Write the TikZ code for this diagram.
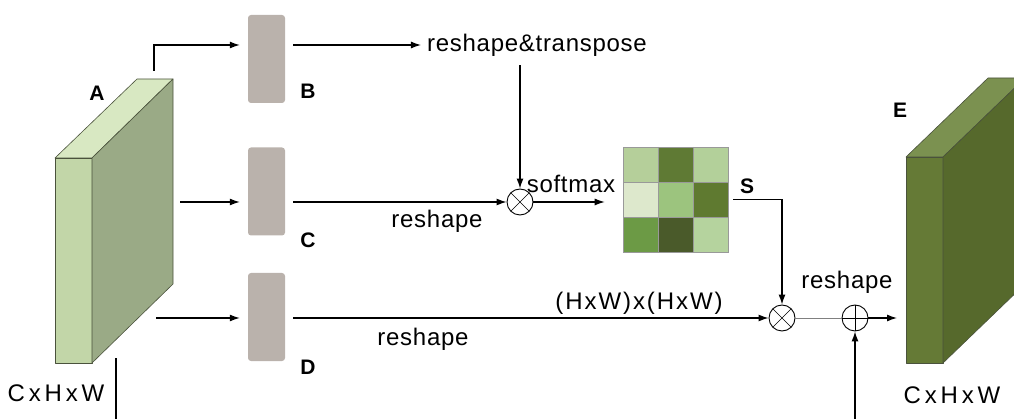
\documentclass[tikz,border=0pt]{standalone}
\usepackage{fontspec}
\setmainfont[LetterSpace=3]{Liberation Sans}
\newfontfamily\widefont[LetterSpace=16]{Liberation Sans}
\newfontfamily\midfont[LetterSpace=8]{Liberation Sans}
\newfontfamily\lblfont{Liberation Sans}
\usetikzlibrary{arrows.meta,calc}
\definecolor{afront}{HTML}{C2D6A8}
\definecolor{atop}{HTML}{D8E8C2}
\definecolor{aside}{HTML}{9AAA86}
\definecolor{efront}{HTML}{657A36}
\definecolor{etop}{HTML}{7B9150}
\definecolor{eside}{HTML}{56692C}
\definecolor{boxgray}{HTML}{BAB2AC}
\definecolor{edgec}{HTML}{4A523C}
\definecolor{m11}{HTML}{B5CF9A}
\definecolor{m12}{HTML}{5F7A34}
\definecolor{m13}{HTML}{B3D09A}
\definecolor{m21}{HTML}{DDE8CC}
\definecolor{m22}{HTML}{9CC47E}
\definecolor{m23}{HTML}{5F7A30}
\definecolor{m31}{HTML}{6C9A45}
\definecolor{m32}{HTML}{4A5A2A}
\definecolor{m33}{HTML}{B5D39E}
\tikzset{
  arr/.style={line width=1.2pt, -{Latex[length=10pt,width=7pt]}},
  plain/.style={line width=1.2pt},
  featbox/.style={rectangle, rounded corners=3pt, fill=boxgray, minimum width=37pt, minimum height=88pt, inner sep=0},
  txt/.style={font=\fontsize{24}{28}\selectfont, inner sep=1pt},
  lbl/.style={font=\lblfont\fontsize{21}{25}\selectfont\bfseries, inner sep=0},
  otimesnode/.style={circle, draw, line width=0.9pt, minimum size=26pt, inner sep=0,
    path picture={\draw[line width=0.6pt] (path picture bounding box.north west) -- (path picture bounding box.south east) (path picture bounding box.north east) -- (path picture bounding box.south west);}},
  oplusnode/.style={circle, draw, line width=0.9pt, minimum size=26pt, inner sep=0,
    path picture={\draw[line width=0.6pt] (path picture bounding box.north) -- (path picture bounding box.south) (path picture bounding box.west) -- (path picture bounding box.east);}},
  face/.style={draw=edgec, line width=0.6pt, line join=round},
  gridline/.style={gray!80, line width=0.6pt}
}
\begin{document}
\begin{tikzpicture}[x=1pt,y=-1pt]
\useasboundingbox (0,0) rectangle (1014,419);
\clip (0,0) rectangle (1014,419);
% block A
\filldraw[face, fill=afront] (55,158) rectangle (92,363);
\filldraw[face, fill=atop] (55,158) -- (137,79) -- (173,79) -- (92,158) -- cycle;
\filldraw[face, fill=aside] (92,158) -- (173,79) -- (173,284) -- (92,363) -- cycle;
\node[lbl] (labA) at (97,93) {A};
\node[txt] (dimA) at (56,393) {\widefont CxHxW};
% block E
\filldraw[face, fill=efront] (906,157) rectangle (943,363);
\filldraw[face, fill=etop] (906,157) -- (988,78) -- (1025,78) -- (943,157) -- cycle;
\filldraw[face, fill=eside] (943,157) -- (1025,78) -- (1025,284) -- (943,363) -- cycle;
\node[lbl] (labE) at (900,110) {E};
\node[txt] (dimE) at (952,395) {\widefont CxHxW};
% feature boxes
\node[featbox] (boxB) at (266.5,59) {};
\node[featbox] (boxC) at (266.5,191.5) {};
\node[featbox] (boxD) at (266.5,317) {};
\node[lbl] (labB) at (308,91) {B};
\node[lbl] (labC) at (308,240) {C};
\node[lbl] (labD) at (308,367) {D};
% operators
\node[otimesnode] (mul1) at (520,202) {};
\node[otimesnode] (mul2) at (782,318) {};
\node[oplusnode] (add) at (855,318) {};
% texts
\node[txt] (rt) at (537,45) {reshape\&transpose};
\node[txt] (sm) at (571,184) {softmax};
\node[txt] (rs1) at (437,221) {reshape};
\node[txt] (hw) at (639,303) {\midfont (HxW)x(HxW)};
\node[txt] (rs2) at (423,339) {reshape};
\node[txt] (rs3) at (847,282) {reshape};
% matrix S
\fill[m11] (623,147) rectangle (658,182);
\fill[m12] (658,147) rectangle (693,182);
\fill[m13] (693,147) rectangle (728,182);
\fill[m21] (623,182) rectangle (658,217);
\fill[m22] (658,182) rectangle (693,217);
\fill[m23] (693,182) rectangle (728,217);
\fill[m31] (623,217) rectangle (658,252);
\fill[m32] (658,217) rectangle (693,252);
\fill[m33] (693,217) rectangle (728,252);
\draw[gridline] (658,147) -- (658,252) (693,147) -- (693,252)
  (623,182) -- (728,182) (623,217) -- (728,217);
\node[rectangle, minimum width=105pt, minimum height=105pt, inner sep=0, draw=gray!80, line width=0.6pt] (smat) at (675.5,199.5) {};
\node[lbl] (labS) at (747,186) {S};
% coordinates
\coordinate (aT) at (154,71);
\coordinate (aM) at (180,202);
\coordinate (aL) at (156,318);
\coordinate (aB) at (116,358);
\coordinate (aBend) at (116,419);
\coordinate (res) at (855,419);
\coordinate (eIn) at (897,318);
% connectors
\draw[arr, shorten >=8pt] (aT) |- ([yshift=14pt]boxB.west);
\draw[arr] ([shift={(8pt,14pt)}]boxB.east) -- ([xshift=-5pt]rt.west);
\draw[arr] (mul1 |- rt.south) ++(0,8) -- (mul1.north);
\draw[arr, shorten >=8pt] (aM) -- (boxC.west |- aM);
\draw[arr] ([xshift=8pt]boxC.east |- mul1) -- (mul1.west);
\draw[arr] (mul1.east) -- ([xshift=-18pt]smat.west |- mul1);
\draw[arr] ([xshift=5pt]smat.east) -| (mul2.north);
\draw[arr, shorten >=8pt] (aL) -- (boxD.west |- aL);
\draw[arr] ([xshift=8pt]boxD.east |- mul2) -- (mul2.west);
\draw[gray, line width=0.7pt] (mul2.east) -- (add.west);
\draw[arr] (add.east) -- (eIn);
\draw[arr] (res) -- (add.south);
\draw[plain] (aB) -- (aBend);
\end{tikzpicture}
\end{document}
